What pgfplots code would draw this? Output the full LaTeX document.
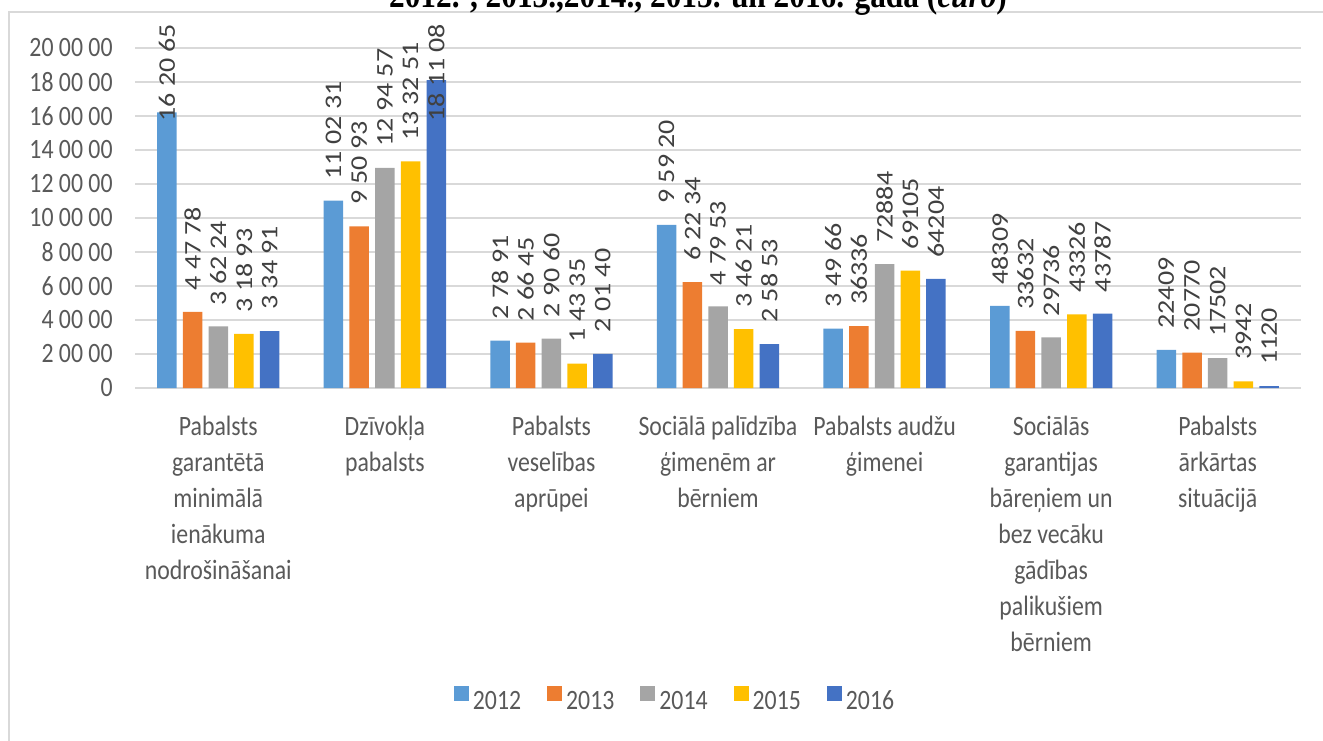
\documentclass[border=0pt]{standalone}
\usepackage{pgfplots}
\pgfplotsset{compat=1.18}
\usepackage{fontspec}
\setmainfont{Carlito}[FakeStretch=0.85]
\newfontfamily\rotfontfam{Carlito}[FakeStretch=1.176]
\newfontfamily\titlefont{Liberation Serif}[FakeStretch=0.87]
\definecolor{c12}{HTML}{5B9BD5}
\definecolor{c13}{HTML}{ED7D31}
\definecolor{c14}{HTML}{A5A5A5}
\definecolor{c15}{HTML}{FFC000}
\definecolor{c16}{HTML}{4472C4}
\definecolor{gridc}{HTML}{D9D9D9}
\definecolor{tickc}{HTML}{595959}
\definecolor{labc}{HTML}{404040}
\newcommand{\fs}{\fontsize{14}{18}\selectfont}
\newcommand{\rf}{\rotfontfam\fontsize{11.9}{14}\selectfont}
\begin{document}
\begin{tikzpicture}[x=1pt,y=1pt]
\fs
\begin{axis}[
  at={(67.5pt,176pt)}, anchor=south west,
  scale only axis, width=583pt, height=170pt,
  ybar=3.1pt, bar width=9.75pt,
  xmin=-0.5, xmax=6.5, ymin=0, ymax=200000,
  scaled y ticks=false,
  xtick={0,1,2,3,4,5,6},
  xticklabels={
    {Pabalsts\\garantētā\\minimālā\\ienākuma\\nodrošināšanai},
    {Dzīvokļa\\pabalsts},
    {Pabalsts\\veselības\\aprūpei},
    {Sociālā palīdzība\\ģimenēm ar\\bērniem},
    {Pabalsts audžu\\ģimenei},
    {Sociālās\\garantijas\\bāreņiem un\\bez vecāku\\gādības\\palikušiem\\bērniem},
    {Pabalsts\\ārkārtas\\situācijā}},
  xticklabel style={align=center, text=tickc, inner sep=0pt, anchor=north, yshift=-14pt, font=\fs},
  ytick={0,20000,40000,60000,80000,100000,120000,140000,160000,180000,200000},
  yticklabels={0,2 00 00,4 00 00,6 00 00,8 00 00,10 00 00,12 00 00,14 00 00,16 00 00,18 00 00,20 00 00},
  yticklabel style={text=tickc, inner sep=0pt, xshift=-11pt, font=\fs},
  major tick length=0pt,
  axis line style={draw=none},
  ymajorgrids, grid style={gridc, line width=1pt},
  clip=false,
  point meta=explicit symbolic,
  nodes near coords={\rf\pgfplotspointmeta},
  nodes near coords align=horizontal,
  nodes near coords style={yshift=0.5pt, rotate=90, anchor=west, inner sep=0pt, inner xsep=10pt, text=labc},
  legend columns=-1,
  legend style={at={(0.464,-0.924)}, anchor=center, draw=none, fill=none,
    font=\fs, text=tickc,
    /tikz/every even column/.append style={column sep=11pt}},
  legend image code/.code={\fill[#1] (0pt,0.7pt) rectangle (7.5pt,8.2pt);},
]
\addplot[fill=c12, draw=none] coordinates {(0,162065) [{}] (1,110231) [11 02 31] (2,27891) [2 78 91] (3,95920) [9 59 20] (4,34966) [3 49 66] (5,48309) [48309] (6,22409) [22409]};
\addplot[fill=c13, draw=none] coordinates {(0,44778) [4 47 78] (1,95093) [9 50 93] (2,26645) [2 66 45] (3,62234) [6 22 34] (4,36336) [36336] (5,33632) [33632] (6,20770) [20770]};
\addplot[fill=c14, draw=none] coordinates {(0,36224) [3 62 24] (1,129457) [12 94 57] (2,29060) [2 90 60] (3,47953) [4 79 53] (4,72884) [72884] (5,29736) [29736] (6,17502) [17502]};
\addplot[fill=c15, draw=none] coordinates {(0,31893) [3 18 93] (1,133251) [13 32 51] (2,14335) [1 43 35] (3,34621) [3 46 21] (4,69105) [69105] (5,43326) [43326] (6,3942) [3942]};
\addplot[fill=c16, draw=none] coordinates {(0,33491) [3 34 91] (1,181108) [{}] (2,20140) [2 01 40] (3,25853) [2 58 53] (4,64204) [64204] (5,43787) [43787] (6,1120) [1120]};
\legend{{\fs 2012},{\fs 2013},{\fs 2014},{\fs 2015},{\fs 2016}}
\node[rotate=90, anchor=west, inner sep=0pt, text=labc, font=\rf] at ([xshift=-25.7pt]axis cs:0,156470) {16 20 65};
\node[rotate=90, anchor=west, inner sep=0pt, text=labc, font=\rf] at ([xshift=25.7pt]axis cs:1,156470) {18 11 08};
\end{axis}
\draw[gridc, line width=1pt] (4.5pt,-5pt) -- (4.5pt,364pt) -- (670pt,364pt);
\node[font=\titlefont\bfseries\fontsize{18}{20}\selectfont, anchor=base, inner sep=0pt] at (349pt,366pt) {2012. , 2013.,2014., 2015. un 2016. gada (\textit{euro})};
\pgfresetboundingbox
\useasboundingbox (0,0) rectangle (661.5pt,370pt);
\end{tikzpicture}
\end{document}
